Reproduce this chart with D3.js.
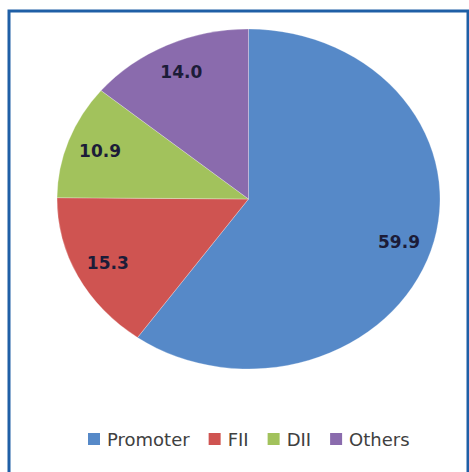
<!DOCTYPE html>
<html>
<head>
<meta charset="utf-8">
<script src="https://cdn.jsdelivr.net/npm/d3@7"></script>
<style>
  body { margin: 0; background: #fff; }
  svg { display: block; }
</style>
</head>
<body>
<div id="chart"></div>
<script>
// Chart data
var categories = ["Promoter", "FII", "DII", "Others"];
var values = [59.9, 15.3, 10.9, 14.0];
var labels = ["59.9", "15.3", "10.9", "14.0"];
var colors = ["#5689c8", "#cf5451", "#a2c25c", "#8a6bad"];

var svgWidth = 469;
var svgHeight = 472;

// Pie geometry (slightly squashed vertically, like the original)
var cx = 248.5;
var cy = 199;
var radius = 191.5;
var squash = 170 / 191.5;
var labelRadius = 158;

var svg = d3.select("#chart")
    .append("svg")
    .attr("width", svgWidth)
    .attr("height", svgHeight);

// Frame
svg.append("rect")
    .attr("x", 9)
    .attr("y", 11)
    .attr("width", 459)
    .attr("height", 480)
    .attr("fill", "none")
    .attr("stroke", "#1f5fa6")
    .attr("stroke-width", 3);

var pieData = categories.map(function (c, i) {
    return { name: c, value: values[i], label: labels[i], color: colors[i] };
});

var pie = d3.pie()
    .sort(null)
    .value(d => d.value);

var arcs = pie(pieData);

var arc = d3.arc()
    .innerRadius(0)
    .outerRadius(radius);

var labelArc = d3.arc()
    .innerRadius(labelRadius)
    .outerRadius(labelRadius);

// Slices
var pieGroup = svg.append("g")
    .attr("transform", `translate(${cx}, ${cy}) scale(1, ${squash})`);

pieGroup.selectAll("path")
    .data(arcs)
    .enter()
    .append("path")
    .attr("d", arc)
    .attr("fill", d => d.data.color)
    .attr("stroke", "#ffffff")
    .attr("stroke-opacity", 0.35)
    .attr("stroke-width", 0.8);

// Value labels
var labelGroup = svg.append("g")
    .attr("transform", `translate(${cx}, ${cy})`);

labelGroup.selectAll("text")
    .data(arcs)
    .enter()
    .append("text")
    .attr("x", d => labelArc.centroid(d)[0])
    .attr("y", d => labelArc.centroid(d)[1] * squash)
    .attr("dy", "0.36em")
    .attr("text-anchor", "middle")
    .attr("font-family", "DejaVu Sans, sans-serif")
    .attr("font-weight", "bold")
    .attr("font-size", "17px")
    .attr("fill", "#1c1c38")
    .text(d => d.data.label);

// Legend
var legend = svg.append("g")
    .attr("transform", "translate(88, 433)");

var xPos = 0;
pieData.forEach(function (d) {
    legend.append("rect")
        .attr("x", xPos)
        .attr("y", 0)
        .attr("width", 12)
        .attr("height", 12)
        .attr("fill", d.color);

    var t = legend.append("text")
        .attr("x", xPos + 19)
        .attr("y", 13)
        .attr("font-family", "DejaVu Sans, sans-serif")
        .attr("font-size", "18px")
        .attr("fill", "#404040")
        .text(d.name);

    xPos += 19 + t.node().getComputedTextLength() + 19;
});
</script>
</body>
</html>
